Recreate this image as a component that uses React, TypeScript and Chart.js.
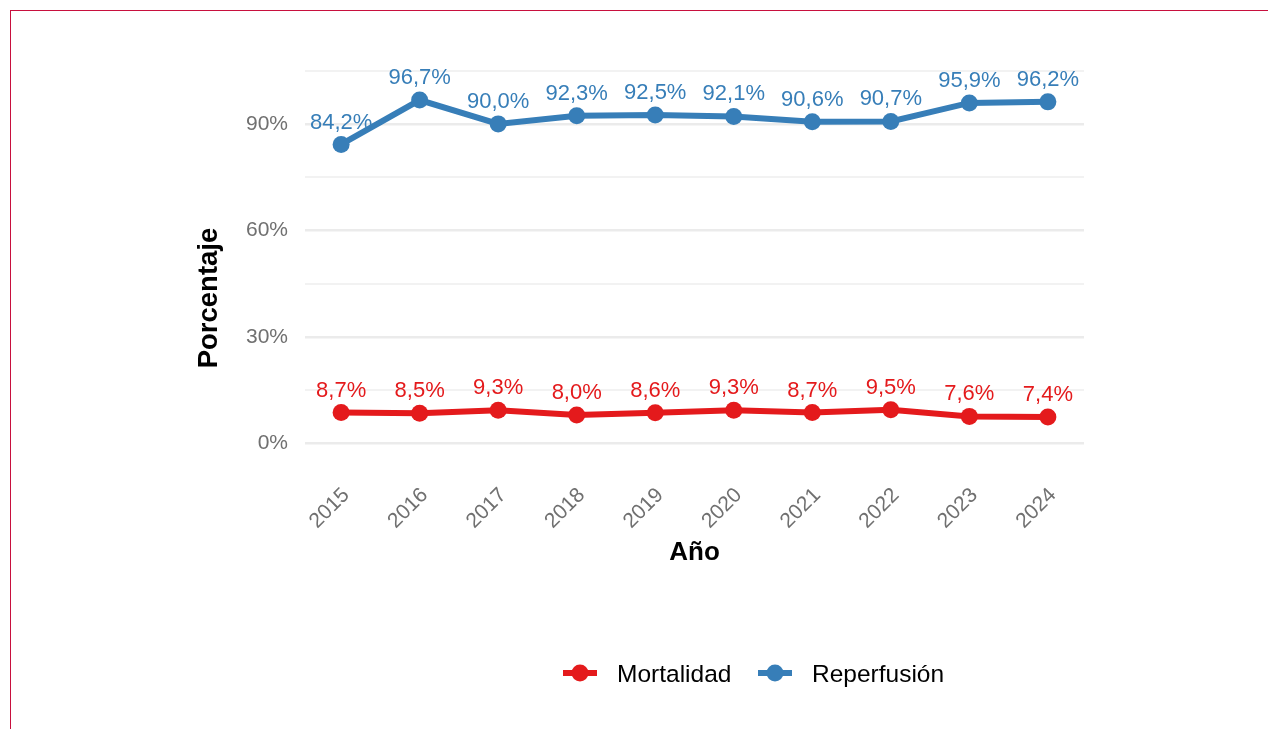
import React, { useEffect, useRef } from "react";
import { Chart, registerables } from "chart.js";

Chart.register(...registerables);

// ---- data ----
const years = [2015, 2016, 2017, 2018, 2019, 2020, 2021, 2022, 2023, 2024];
const mortalidad = [8.7, 8.5, 9.3, 8.0, 8.6, 9.3, 8.7, 9.5, 7.6, 7.4];
const reperfusion = [84.2, 96.7, 90.0, 92.3, 92.5, 92.1, 90.6, 90.7, 95.9, 96.2];
const yGridTicks = [0, 15, 30, 45, 60, 75, 90, 105];
const yLabelTicks = [0, 30, 60, 90];
const seriesNames = ["Mortalidad", "Reperfusión"];
const seriesColors = ["#E41A1C", "#377EB8"];
const xTitle = "Año";
const yTitle = "Porcentaje";

const FONT = "'Liberation Sans', Arial, Helvetica, sans-serif";

const fmt = (v: number) => v.toFixed(1).replace(".", ",") + "%";

const labelsPlugin = {
  id: "pointLabels",
  afterDatasetsDraw(chart: any) {
    const ctx = chart.ctx;
    ctx.save();
    ctx.font = `22px ${FONT}`;
    ctx.textAlign = "center";
    ctx.textBaseline = "middle";
    chart.data.datasets.forEach((ds: any, i: number) => {
      const meta = chart.getDatasetMeta(i);
      meta.data.forEach((pt: any, j: number) => {
        ctx.fillStyle = ds.borderColor;
        ctx.fillText(fmt(ds.data[j].y), pt.x, pt.y - 22);
      });
    });
    ctx.restore();
  },
};

const decorPlugin = {
  id: "decor",
  afterDraw(chart: any) {
    const ctx = chart.ctx;
    const area = chart.chartArea;
    ctx.save();
    // axis titles
    ctx.fillStyle = "#000";
    ctx.font = `bold 26px ${FONT}`;
    ctx.textAlign = "center";
    ctx.textBaseline = "alphabetic";
    ctx.fillText(xTitle, (area.left + area.right) / 2, 560);
    ctx.save();
    ctx.font = `bold 27.5px ${FONT}`;
    ctx.translate(217, 298);
    ctx.rotate(-Math.PI / 2);
    ctx.fillText(yTitle, 0, 0);
    ctx.restore();

    // legend
    const items = [
      { x: 563, tx: 617 },
      { x: 758, tx: 812 },
    ];
    const ly = 673;
    ctx.font = `24.5px ${FONT}`;
    ctx.textAlign = "left";
    items.forEach((it, i) => {
      ctx.strokeStyle = seriesColors[i];
      ctx.fillStyle = seriesColors[i];
      ctx.lineWidth = 6;
      ctx.beginPath();
      ctx.moveTo(it.x, ly);
      ctx.lineTo(it.x + 34, ly);
      ctx.stroke();
      ctx.beginPath();
      ctx.arc(it.x + 17, ly, 8.5, 0, Math.PI * 2);
      ctx.fill();
      ctx.fillStyle = "#000";
      ctx.fillText(seriesNames[i], it.tx, 682);
    });
    ctx.restore();
  },
};

export default function App() {
  const ref = useRef<HTMLCanvasElement>(null);

  useEffect(() => {
    if (!ref.current) return;
    Chart.defaults.font.family = FONT;
    const chart = new Chart(ref.current, {
      type: "line",
      data: {
        datasets: [mortalidad, reperfusion].map((arr, i) => ({
          label: seriesNames[i],
          data: years.map((yr, j) => ({ x: yr, y: arr[j] })),
          borderColor: seriesColors[i],
          backgroundColor: seriesColors[i],
          borderWidth: 6,
          pointRadius: 8.5,
          pointHoverRadius: 8.5,
          pointBorderWidth: 0,
          tension: 0,
          fill: false,
        })),
      },
      options: {
        responsive: false,
        animation: false,
        devicePixelRatio: 1,
        layout: { padding: { left: 0, top: 52, right: 184, bottom: 0 } },
        plugins: {
          legend: { display: false },
          tooltip: { enabled: false },
          title: { display: false },
        },
        scales: {
          x: {
            type: "linear",
            min: 2014.54,
            max: 2024.46,
            afterBuildTicks: (s: any) => {
              s.ticks = years.map((v) => ({ value: v }));
            },
            afterFit: (s: any) => {
              s.height = 267;
            },
            grid: { display: false },
            border: { display: false },
            ticks: {
              autoSkip: false,
              minRotation: 45,
              maxRotation: 45,
              padding: 13,
              labelOffset: 5,
              color: "#707070",
              font: { size: 21, family: FONT },
              callback: (v: any) => String(v),
            },
          },
          y: {
            type: "linear",
            min: -5.25,
            max: 110.25,
            afterBuildTicks: (s: any) => {
              s.ticks = yGridTicks.map((v) => ({ value: v }));
            },
            afterFit: (s: any) => {
              s.width = 305;
            },
            grid: {
              drawTicks: false,
              color: (c: any) =>
                yLabelTicks.includes(c.tick?.value) ? "#ebebeb" : "#f2f2f2",
              lineWidth: (c: any) =>
                yLabelTicks.includes(c.tick?.value) ? 2.5 : 2,
            },
            border: { display: false },
            ticks: {
              padding: 17,
              color: "#707070",
              font: { size: 21, family: FONT },
              callback: (v: any) => (yLabelTicks.includes(v) ? v + "%" : ""),
            },
          },
        },
      },
      plugins: [labelsPlugin, decorPlugin],
    } as any);
    return () => chart.destroy();
  }, []);

  return (
    <div
      style={{
        position: "fixed",
        left: 0,
        top: 0,
        width: 1268,
        height: 729,
        overflow: "hidden",
        background: "#fff",
      }}
    >
      <div
        style={{
          position: "absolute",
          left: 10,
          top: 10,
          width: 1400,
          height: 900,
          borderTop: "1.5px solid #c8103e",
          borderLeft: "1.5px solid #c8103e",
        }}
      />
      <canvas
        ref={ref}
        width={1268}
        height={729}
        style={{ position: "absolute", left: 0, top: 0, width: 1268, height: 729 }}
      />
    </div>
  );
}
